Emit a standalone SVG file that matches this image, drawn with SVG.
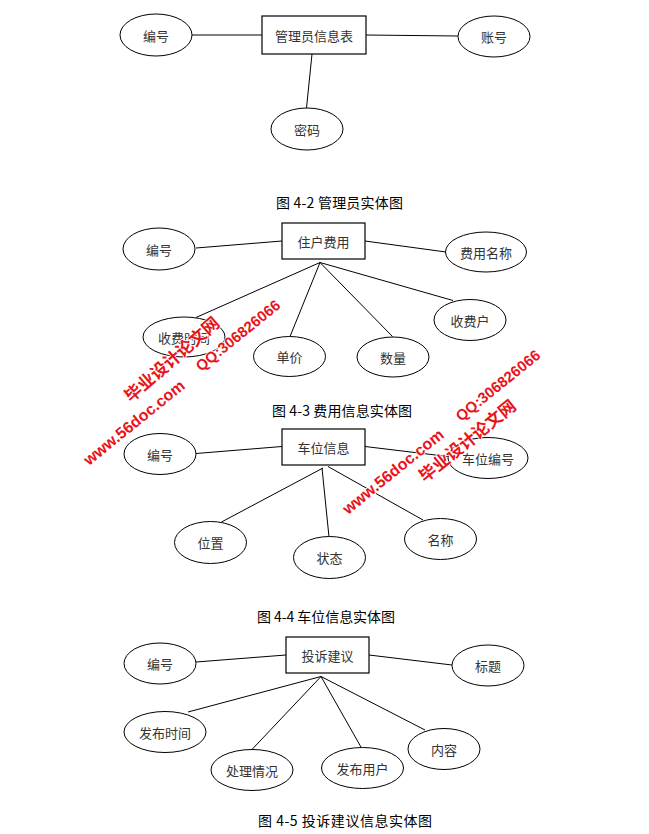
<svg xmlns="http://www.w3.org/2000/svg" width="649" height="834" viewBox="0 0 649 834">
<style>
.ent{fill:#fff;stroke:#000;stroke-width:1.2}
.att{fill:#fff;stroke:#000;stroke-width:1}
.lbl{font-family:"Noto Sans CJK SC","Noto Sans",sans-serif;font-size:13px;fill:#333;text-anchor:middle;dominant-baseline:central}
.cap{font-family:"Noto Sans CJK SC","Noto Sans",sans-serif;font-size:14px;fill:#000}
#connectors line{stroke:#000;stroke-width:1}
.wm{font-family:"Liberation Sans","DejaVu Sans","Noto Sans CJK SC",sans-serif;font-weight:bold;fill:#e8141c;stroke:#fff;stroke-width:1.5;paint-order:stroke}
</style>
<rect width="649" height="834" fill="#fff"/>
<g id="connectors">
<line x1="192" y1="35" x2="262" y2="35"/>
<line x1="366" y1="35" x2="458" y2="36"/>
<line x1="312" y1="54" x2="306.5" y2="108"/>
<line x1="196" y1="248" x2="282" y2="241"/>
<line x1="365" y1="241" x2="446" y2="252"/>
<line x1="320" y1="262.5" x2="196" y2="317.5"/>
<line x1="320" y1="262.5" x2="290" y2="336.5"/>
<line x1="320" y1="262.5" x2="392.5" y2="336.5"/>
<line x1="320" y1="262.5" x2="453" y2="300.5"/>
<line x1="196" y1="453.5" x2="282" y2="446.5"/>
<line x1="365" y1="446.5" x2="448" y2="456.5"/>
<line x1="323" y1="468" x2="221.5" y2="522"/>
<line x1="322" y1="468" x2="329" y2="537"/>
<line x1="328" y1="466.5" x2="423" y2="520"/>
<line x1="196" y1="662" x2="286" y2="655"/>
<line x1="369" y1="655" x2="452" y2="665"/>
<line x1="321" y1="676.5" x2="188" y2="712"/>
<line x1="321" y1="676.5" x2="251.5" y2="750"/>
<line x1="321" y1="676.5" x2="361.5" y2="748"/>
<line x1="321" y1="676.5" x2="425" y2="730"/>
</g>
<g id="d1-entity"><rect class="ent" x="262" y="16" width="104" height="38"/><text class="lbl" x="314" y="35">管理员信息表</text></g>
<g id="d1-bianhao"><ellipse class="att" cx="156" cy="35" rx="36" ry="21"/><text class="lbl" x="156" y="35">编号</text></g>
<g id="d1-zhanghao"><ellipse class="att" cx="494" cy="36.5" rx="36" ry="20.5"/><text class="lbl" x="494" y="36.5">账号</text></g>
<g id="d1-mima"><ellipse class="att" cx="307" cy="129" rx="36" ry="21"/><text class="lbl" x="307" y="129">密码</text></g>
<text class="cap" x="276" y="208" textLength="127">图 4-2 管理员实体图</text>

<g id="d2-entity"><rect class="ent" x="282" y="223" width="83" height="36"/><text class="lbl" x="323.5" y="241">住户费用</text></g>
<g id="d2-bianhao"><ellipse class="att" cx="159" cy="249" rx="36" ry="21"/><text class="lbl" x="159" y="249">编号</text></g>
<g id="d2-mingcheng"><ellipse class="att" cx="486" cy="252" rx="40.5" ry="20"/><text class="lbl" x="486" y="252">费用名称</text></g>
<g id="d2-shijian"><ellipse class="att" cx="184" cy="337" rx="41" ry="20"/><text class="lbl" x="184" y="337">收费时间</text></g>
<g id="d2-danjia"><ellipse class="att" cx="289.5" cy="356.5" rx="36" ry="20"/><text class="lbl" x="289.5" y="356.5">单价</text></g>
<g id="d2-shuliang"><ellipse class="att" cx="393" cy="357" rx="36" ry="20"/><text class="lbl" x="393" y="357">数量</text></g>
<g id="d2-shoufeihu"><ellipse class="att" cx="470" cy="320" rx="36" ry="20.5"/><text class="lbl" x="470" y="320">收费户</text></g>
<text class="cap" x="272" y="416" textLength="140">图 4-3 费用信息实体图</text>

<g id="d3-entity"><rect class="ent" x="282" y="429" width="83" height="36"/><text class="lbl" x="323.5" y="447">车位信息</text></g>
<g id="d3-bianhao"><ellipse class="att" cx="160" cy="454" rx="36" ry="20.5"/><text class="lbl" x="160" y="454">编号</text></g>
<g id="d3-cwbianhao"><ellipse class="att" cx="488" cy="458" rx="40" ry="20.5"/><text class="lbl" x="488" y="458">车位编号</text></g>
<g id="d3-weizhi"><ellipse class="att" cx="210.5" cy="542.5" rx="36" ry="21"/><text class="lbl" x="210.5" y="542.5">位置</text></g>
<g id="d3-zhuangtai"><ellipse class="att" cx="329.5" cy="557.5" rx="36" ry="21"/><text class="lbl" x="329.5" y="557.5">状态</text></g>
<g id="d3-mingcheng"><ellipse class="att" cx="440.5" cy="539" rx="36" ry="20.5"/><text class="lbl" x="440.5" y="539">名称</text></g>
<text class="cap" x="257" y="622" textLength="138">图 4-4 车位信息实体图</text>

<g id="d4-entity"><rect class="ent" x="286" y="637" width="83" height="36"/><text class="lbl" x="327.5" y="655">投诉建议</text></g>
<g id="d4-bianhao"><ellipse class="att" cx="160" cy="663.5" rx="36" ry="20.5"/><text class="lbl" x="160" y="663.5">编号</text></g>
<g id="d4-biaoti"><ellipse class="att" cx="488" cy="665.5" rx="36" ry="20.5"/><text class="lbl" x="488" y="665.5">标题</text></g>
<g id="d4-fabushijian"><ellipse class="att" cx="165" cy="732" rx="41" ry="20.5"/><text class="lbl" x="165" y="732">发布时间</text></g>
<g id="d4-chuli"><ellipse class="att" cx="252" cy="770" rx="41" ry="20.5"/><text class="lbl" x="252" y="770">处理情况</text></g>
<g id="d4-yonghu"><ellipse class="att" cx="362.5" cy="768" rx="41" ry="20.5"/><text class="lbl" x="362.5" y="768">发布用户</text></g>
<g id="d4-neirong"><ellipse class="att" cx="444" cy="749" rx="36" ry="20.5"/><text class="lbl" x="444" y="749">内容</text></g>
<text class="cap" x="258" y="826" textLength="174">图 4-5 投诉建议信息实体图</text>

<g id="watermark1">
<text class="wm" font-size="16" transform="translate(89,466) rotate(-39)">www.56doc.com</text>
<text class="wm" font-size="15" transform="translate(201,372) rotate(-39)">QQ:306826066</text>
<text class="wm" font-size="17" transform="translate(131,403) rotate(-41)">毕业设计论文网</text>
</g>
<g id="watermark2">
<text class="wm" font-size="16" transform="translate(348,515) rotate(-39)">www.56doc.com</text>
<text class="wm" font-size="15" transform="translate(461,422) rotate(-39)">QQ:306826066</text>
<text class="wm" font-size="17" transform="translate(425,483) rotate(-39)">毕业设计论文网</text>
</g>
</svg>
